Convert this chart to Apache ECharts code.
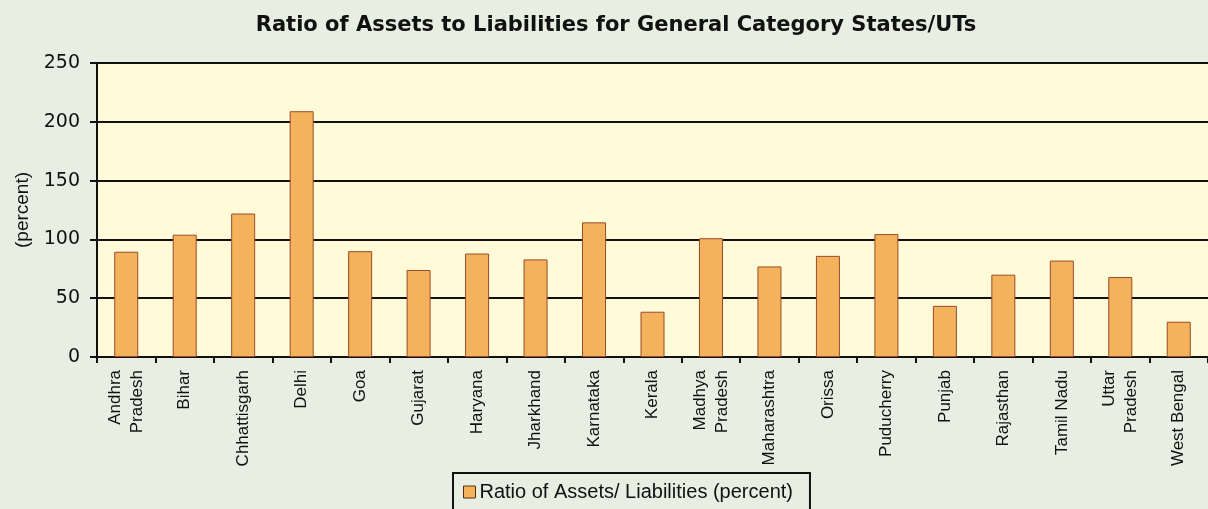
<!DOCTYPE html>
<html>
<head>
<meta charset="utf-8">
<script src="https://cdn.jsdelivr.net/npm/echarts@6/dist/echarts.min.js"></script>
<style>
html,body{margin:0;padding:0;background:#e9eee3;}
#c{width:1208px;height:509px;}
</style>
</head>
<body>
<div id="c"></div>
<script>
const categories = ["Andhra\nPradesh","Bihar","Chhattisgarh","Delhi","Goa","Gujarat","Haryana","Jharkhand","Karnataka","Kerala","Madhya\nPradesh","Maharashtra","Orissa","Puducherry","Punjab","Rajasthan","Tamil Nadu","Uttar\nPradesh","West Bengal"];
const ratioValues = [89.5,104,122,209,90,74,88,83,114.5,38.5,101,77,86,104.5,43.5,70,82,68,30];
const yTicks = [0,50,100,150,200,250];
const seriesName = "Ratio of Assets/ Liabilities (percent)";

const chart = echarts.init(document.getElementById('c'));
chart.setOption({
  backgroundColor: '#e9eee3',
  animation: false,
  title: {
    text: 'Ratio of Assets to Liabilities for General Category States/UTs',
    left: 611, top: 10, textAlign: 'center',
    textStyle: {fontFamily: 'DejaVu Sans', fontWeight: 'bold', fontSize: 21, color: '#111'}
  },
  legend: {
    data: [seriesName],
    left: 453, top: 473,
    padding: [9, 17, 30, 10],
    borderColor: '#111', borderWidth: 2,
    itemWidth: 12, itemHeight: 12, itemGap: 4,
    icon: 'rect',
    textStyle: {fontFamily: 'Liberation Sans', fontSize: 20, color: '#111', padding: [0,0,0,-1]},
    itemStyle: {borderColor: '#5a2a10', borderWidth: 1}
  },
  grid: {left: 97, right: -4, top: 63, bottom: 152, show: true, backgroundColor: '#fffbd9', borderWidth: 0},
  xAxis: {
    type: 'category', data: categories,
    axisLine: {lineStyle: {color: '#111', width: 2}},
    axisTick: {show: true, length: 6, lineStyle: {color: '#111', width: 2}},
    axisLabel: {rotate: 90, interval: 0, fontFamily: 'Liberation Sans', fontSize: 17, color: '#111', lineHeight: 22, margin: 13}
  },
  yAxis: {
    type: 'value', min: 0, max: 250, interval: 50,
    name: '(percent)', nameLocation: 'middle', nameGap: 65, nameRotate: 90,
    nameTextStyle: {fontFamily: 'Liberation Sans', fontSize: 19, color: '#111'},
    axisLine: {show: true, lineStyle: {color: '#111', width: 2}},
    axisTick: {show: true, length: 7, lineStyle: {color: '#111', width: 2}},
    axisLabel: {fontFamily: 'DejaVu Sans', fontSize: 19, color: '#111', margin: 17,
      formatter: v => yTicks.includes(v) ? String(v) : ''},
    splitLine: {show: true, lineStyle: {color: '#111', width: 2}}
  },
  series: [{
    name: seriesName, type: 'bar', data: ratioValues, barWidth: 24,
    itemStyle: {color: '#f4b25d', borderColor: '#9a4a2a', borderWidth: 1}
  }]
});
</script>
</body>
</html>
